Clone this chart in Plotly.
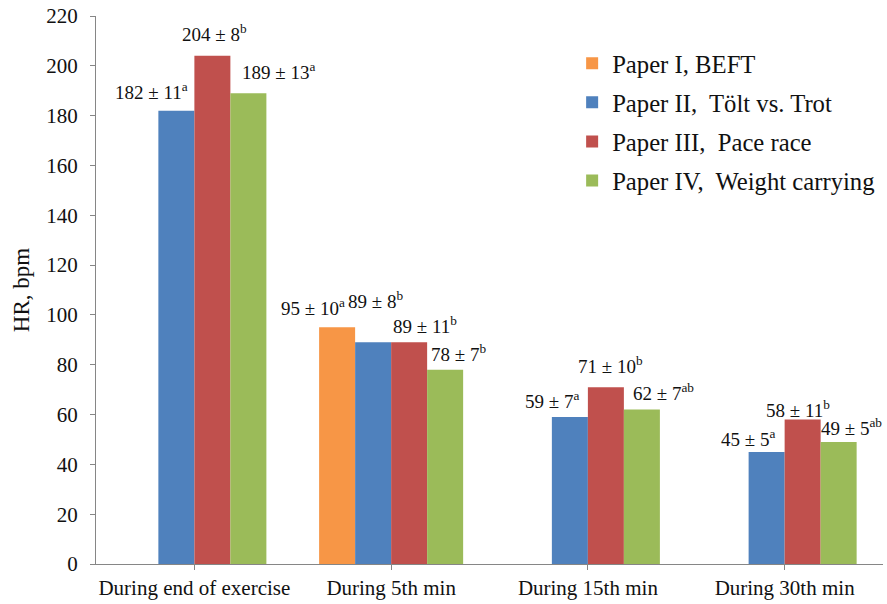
import plotly.graph_objects as go

# Heart rate (bpm) after exercise, by study
categories = ["During end of exercise", "During 5th min", "During 15th min", "During 30th min"]
series_names = ["Paper I, BEFT", "Paper II,\u00a0 Tölt vs. Trot", "Paper III,\u00a0 Pace race", "Paper IV,\u00a0 Weight carrying"]

paper1_mean = [None, 95, None, None]
paper2_mean = [182, 89, 59, 45]
paper3_mean = [204, 89, 71, 58]
paper4_mean = [189, 78, 62, 49]

paper1_sd = [None, 10, None, None]
paper2_sd = [11, 8, 7, 5]
paper3_sd = [8, 11, 10, 11]
paper4_sd = [13, 7, 7, 5]

paper1_sig = [None, "a", None, None]
paper2_sig = ["a", "b", "a", "a"]
paper3_sig = ["b", "b", "b", "b"]
paper4_sig = ["a", "b", "ab", "ab"]

colors = ["#F79646", "#4F81BD", "#C0504D", "#9BBB59"]

means = [paper1_mean, paper2_mean, paper3_mean, paper4_mean]
sds = [paper1_sd, paper2_sd, paper3_sd, paper4_sd]
sigs = [paper1_sig, paper2_sig, paper3_sig, paper4_sig]

# label nudges in pixels (dx, dy above bar top), per series and category
label_nudge = [
    [None, (-24, 20), None, None],
    [(-25, 20), (2, 42), (-18, 17), (-19, 14)],
    [(2, 23), (16, 17), (5, 22), (-5, 11)],
    [(30, 22), (13, 17), (22, 18), (13, 15)],
]

FONT = "Liberation Serif"
BARGAP = 0.268
n_series = len(means)
bar_w = (1 - BARGAP) / n_series

fig = go.Figure()
for k in range(n_series):
    fig.add_trace(go.Bar(
        x=list(range(len(categories))),
        y=means[k],
        name=series_names[k],
        marker=dict(color=colors[k], line=dict(width=0)),
        legendgroup=f"g{k}",
    ))

annotations = []
for k in range(n_series):
    slot = (k - (n_series - 1) / 2) * bar_w
    for i, v in enumerate(means[k]):
        if v is None:
            continue
        dx, dy = label_nudge[k][i]
        annotations.append(dict(
            x=i + slot, y=v, xref="x", yref="y",
            text=f"{v} ± {sds[k][i]}<sup>{sigs[k][i]}</sup>",
            showarrow=False, xshift=dx, yshift=dy,
            font=dict(family=FONT, size=19, color="#111111"),
        ))

fig.update_layout(
    width=887, height=604,
    margin=dict(l=96, r=4, t=15, b=37),
    paper_bgcolor="white", plot_bgcolor="white",
    barmode="group", bargap=BARGAP, bargroupgap=0,
    font=dict(family=FONT, color="#111111"),
    showlegend=True,
    legend=dict(
        x=0.605, y=0.955, xanchor="left", yanchor="top",
        font=dict(family=FONT, size=24.7, color="#111111"),
        traceorder="grouped", tracegroupgap=4,
        itemwidth=30, bgcolor="rgba(0,0,0,0)",
    ),
    annotations=annotations,
)

fig.update_xaxes(
    tickmode="array", tickvals=list(range(len(categories))), ticktext=categories,
    range=[-0.5, len(categories) - 0.5],
    showline=True, linecolor="#868686", linewidth=1,
    ticks="outside", ticklen=5, tickcolor="#868686",
    showgrid=False, zeroline=False,
    tickfont=dict(family=FONT, size=21, color="#111111"),
)
fig.update_yaxes(
    range=[0, 220], dtick=20, tick0=0,
    showline=True, linecolor="#868686", linewidth=1,
    ticks="outside", ticklen=5, tickcolor="#868686",
    showgrid=False, zeroline=False,
    tickfont=dict(family=FONT, size=21, color="#111111"),
    ticklabelstandoff=8,
    title=dict(text="HR, bpm", font=dict(family=FONT, size=23, color="#111111"), standoff=10),
)

fig.write_html("out.html")
